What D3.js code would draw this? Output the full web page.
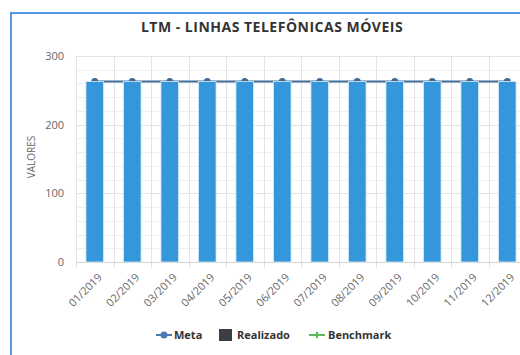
<!DOCTYPE html>
<html>
<head>
<meta charset="utf-8">
<script src="https://cdn.jsdelivr.net/npm/d3@7"></script>
<style>
  html, body { margin: 0; padding: 0; background: #fff; overflow: hidden; }
  svg { display: block; font-family: "Open Sans", "DejaVu Sans", sans-serif; }
</style>
</head>
<body>
<svg id="chart" width="520" height="355"></svg>
<script>
// Monthly categories
const months = ["01/2019","02/2019","03/2019","04/2019","05/2019","06/2019",
                "07/2019","08/2019","09/2019","10/2019","11/2019","12/2019"];
// Target (line) and achieved (bars) values
const meta      = [263, 263, 263, 263, 263, 263, 263, 263, 263, 263, 263, 263];
const realizado = [263, 263, 263, 263, 263, 263, 263, 263, 263, 263, 263, 263];
// Y axis ticks
const yMajorTicks = [0, 100, 200, 300];
const yMinorTicks = [20, 40, 60, 80, 120, 140, 160, 180, 220, 240, 260, 280];
const titleText = "LTM - LINHAS TELEFÔNICAS MÓVEIS";
const yTitle = "VALORES";
const legendItems = ["Meta", "Realizado", "Benchmark"];

const svg = d3.select("#chart");

// Panel frame
svg.append("rect")
  .attr("x", 11).attr("y", 13)
  .attr("width", 560).attr("height", 400)
  .attr("fill", "#fff")
  .attr("stroke", "#559ae0").attr("stroke-width", 2);

const plot = { left: 76, right: 526, top: 56, bottom: 262 };

const x = d3.scaleBand().domain(months).range([plot.left, plot.right]).padding(0);
const y = d3.scaleLinear().domain([0, 300]).range([plot.bottom, plot.top]);

// Minor horizontal grid
svg.append("g").selectAll("line").data(yMinorTicks).join("line")
  .attr("x1", plot.left).attr("x2", plot.right)
  .attr("y1", d => Math.round(y(d)) + 0.5).attr("y2", d => Math.round(y(d)) + 0.5)
  .attr("stroke", "#f0f0f0").attr("stroke-width", 1);

// Major horizontal grid
svg.append("g").selectAll("line").data(yMajorTicks.filter(d => d > 0)).join("line")
  .attr("x1", plot.left).attr("x2", plot.right)
  .attr("y1", d => Math.round(y(d)) + 0.5).attr("y2", d => Math.round(y(d)) + 0.5)
  .attr("stroke", "#e3e3e3").attr("stroke-width", 1);

// Vertical grid at category boundaries
svg.append("g").selectAll("line").data(months).join("line")
  .attr("x1", d => Math.round(x(d)) + 0.5).attr("x2", d => Math.round(x(d)) + 0.5)
  .attr("y1", plot.top).attr("y2", plot.bottom + 6)
  .attr("stroke", "#e3e3e3").attr("stroke-width", 1);

// X axis baseline
svg.append("line")
  .attr("x1", plot.left).attr("x2", plot.right)
  .attr("y1", plot.bottom + 0.5).attr("y2", plot.bottom + 0.5)
  .attr("stroke", "#d4d4d4");

// Y axis labels
svg.append("g").selectAll("text").data(yMajorTicks).join("text")
  .attr("x", 64).attr("y", d => y(d) + 4)
  .attr("text-anchor", "end")
  .attr("font-size", 11).attr("fill", "#666")
  .text(d => d);

// Y axis title
svg.append("text")
  .attr("transform", "translate(35,157) rotate(-90)")
  .attr("text-anchor", "middle")
  .attr("font-size", 10).attr("fill", "#666")
  .text(yTitle);

// X axis labels
const cx = d => x(d) + x.bandwidth() / 2;
svg.append("g").selectAll("text").data(months).join("text")
  .attr("transform", d => `translate(${cx(d) + 8},${plot.bottom + 16}) rotate(-45)`)
  .attr("text-anchor", "end")
  .attr("font-size", 11).attr("fill", "#666")
  .text(d => d);

// Meta line with markers (drawn beneath the bars)
const metaColor = "#3f6a96";
const line = d3.line().x((d, i) => cx(months[i])).y(d => y(d));
svg.append("path")
  .datum(meta)
  .attr("d", line)
  .attr("fill", "none")
  .attr("stroke", metaColor).attr("stroke-width", 2);
svg.append("g").selectAll("circle").data(meta).join("circle")
  .attr("cx", (d, i) => cx(months[i])).attr("cy", d => y(d))
  .attr("r", 3.5).attr("fill", metaColor);

// Realizado bars
const barW = x.bandwidth() * 0.47;
svg.append("g").selectAll("rect").data(realizado).join("rect")
  .attr("x", (d, i) => cx(months[i]) - barW / 2)
  .attr("y", d => y(d))
  .attr("width", barW)
  .attr("height", d => y(0) - y(d))
  .attr("fill", "#3597db")
  .attr("stroke", "#dcecf8").attr("stroke-width", 0.8);

// Title
svg.append("text")
  .attr("x", 272).attr("y", 32)
  .attr("text-anchor", "middle")
  .attr("font-size", 14).attr("font-weight", "bold").attr("fill", "#333")
  .attr("letter-spacing", 0.5)
  .text(titleText);

// Legend
const lg = svg.append("g").attr("font-size", 11).attr("font-weight", "bold").attr("fill", "#333");
// Meta
lg.append("line").attr("x1", 156).attr("x2", 172).attr("y1", 335).attr("y2", 335)
  .attr("stroke", "#4a7ab0").attr("stroke-width", 2);
lg.append("circle").attr("cx", 164).attr("cy", 335).attr("r", 3.5).attr("fill", "#4a7ab0");
lg.append("text").attr("x", 174).attr("y", 339).text(legendItems[0]);
// Realizado
lg.append("rect").attr("x", 219).attr("y", 329).attr("width", 13).attr("height", 12).attr("fill", "#3d3e45");
lg.append("text").attr("x", 237).attr("y", 339).text(legendItems[1]);
// Benchmark
lg.append("line").attr("x1", 309).attr("x2", 325).attr("y1", 335).attr("y2", 335)
  .attr("stroke", "#5cb85c").attr("stroke-width", 2);
lg.append("path").attr("d", d3.symbol(d3.symbolCross, 22)())
  .attr("transform", "translate(317,335)").attr("fill", "#5cb85c");
lg.append("text").attr("x", 328).attr("y", 339).text(legendItems[2]);
</script>
</body>
</html>
